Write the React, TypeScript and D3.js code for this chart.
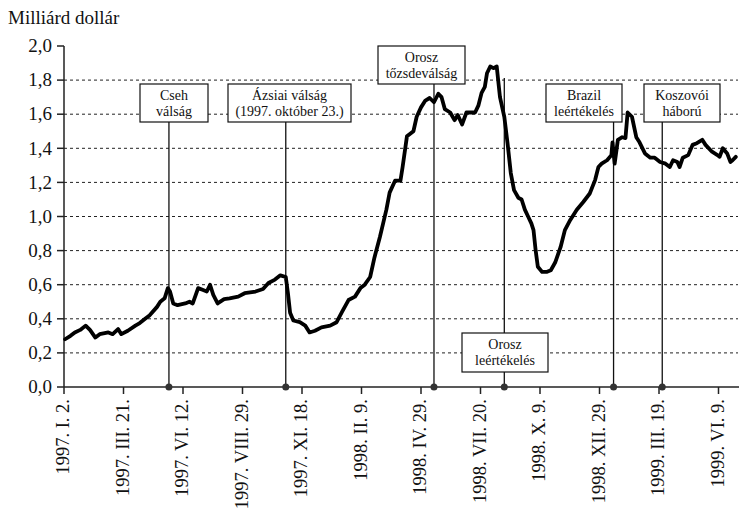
import React from "react";
import * as d3 from "d3";

// trading-day offsets from 1997-01-02
const days = [1, 6, 10, 15, 20, 24, 29, 33, 41, 45, 50, 53, 59, 66, 70, 75, 79, 86, 89, 93, 96, 98, 101, 105, 112, 116, 119, 124, 128, 132, 135, 138, 142, 148, 153, 161, 167, 177, 184, 189, 195, 200, 205, 207, 209, 212, 218, 223, 227, 232, 238, 246, 252, 257, 263, 269, 274, 278, 283, 287, 292, 295, 298, 301, 306, 311, 313, 317, 323, 326, 330, 334, 338, 342, 346, 349, 352, 357, 361, 364, 368, 372, 375, 380, 383, 386, 389, 391, 394, 397, 400, 403, 407, 410, 413, 416, 420, 423, 426, 429, 432, 434, 436, 438, 442, 446, 450, 454, 459, 463, 468, 474, 480, 486, 491, 494, 497, 502, 506, 507, 509, 512, 516, 519, 521, 525, 529, 532, 537, 542, 546, 551, 556, 560, 563, 567, 569, 572, 577, 581, 585, 590, 593, 599, 604, 606, 609, 613, 616, 618, 621];
// billion dollars
const values = [0.28, 0.3, 0.32, 0.335, 0.36, 0.335, 0.29, 0.31, 0.32, 0.31, 0.34, 0.31, 0.33, 0.36, 0.375, 0.4, 0.42, 0.47, 0.5, 0.52, 0.58, 0.56, 0.49, 0.48, 0.49, 0.5, 0.49, 0.58, 0.57, 0.56, 0.6, 0.54, 0.49, 0.515, 0.52, 0.53, 0.55, 0.56, 0.575, 0.61, 0.63, 0.655, 0.645, 0.55, 0.435, 0.39, 0.38, 0.36, 0.32, 0.33, 0.35, 0.36, 0.38, 0.44, 0.51, 0.53, 0.58, 0.6, 0.645, 0.76, 0.88, 0.96, 1.04, 1.14, 1.21, 1.21, 1.29, 1.47, 1.5, 1.585, 1.64, 1.68, 1.695, 1.67, 1.72, 1.7, 1.63, 1.61, 1.565, 1.595, 1.54, 1.61, 1.61, 1.61, 1.65, 1.725, 1.76, 1.84, 1.88, 1.87, 1.88, 1.7, 1.585, 1.43, 1.255, 1.155, 1.11, 1.1, 1.04, 1.0, 0.96, 0.92, 0.8, 0.705, 0.675, 0.675, 0.685, 0.73, 0.82, 0.92, 0.98, 1.04, 1.085, 1.135, 1.215, 1.29, 1.31, 1.33, 1.36, 1.435, 1.31, 1.45, 1.465, 1.46, 1.61, 1.585, 1.465, 1.435, 1.37, 1.345, 1.345, 1.32, 1.31, 1.29, 1.33, 1.32, 1.29, 1.345, 1.36, 1.42, 1.43, 1.45, 1.42, 1.38, 1.36, 1.35, 1.4, 1.37, 1.32, 1.33, 1.35];

const tickDays = [0, 55, 110, 165, 220, 275, 330, 385, 440, 495, 550, 605];
const tickLabels = ["1997. I. 2.", "1997. III. 21.", "1997. VI. 12.", "1997. VIII. 29.", "1997. XI. 18.", "1998. II. 9.", "1998. IV. 29.", "1998. VII. 20.", "1998. X. 9.", "1998. XII. 29.", "1999. III. 19.", "1999. VI. 9."];
const yTicks = [0, 0.2, 0.4, 0.6, 0.8, 1.0, 1.2, 1.4, 1.6, 1.8, 2.0];

const eventDays = [97, 205, 342, 407, 508, 553];
const eventLabels = [
  ["Cseh", "válság"],
  ["Ázsiai válság", "(1997. október 23.)"],
  ["Orosz", "tőzsdeválság"],
  ["Orosz", "leértékelés"],
  ["Brazil", "leértékelés"],
  ["Koszovói", "háború"],
];

// box layout: [left, top, width, height], line top
const boxLayout = [
  { x: 140, y: 84, w: 68, h: 38, lineTop: 122 },
  { x: 228, y: 84, w: 123, h: 38, lineTop: 122 },
  { x: 378, y: 46, w: 87, h: 38, lineTop: 84 },
  { x: 462, y: 333, w: 86, h: 39, lineTop: 78 },
  { x: 546, y: 84, w: 76, h: 38, lineTop: 122 },
  { x: 644, y: 84, w: 76, h: 38, lineTop: 122 },
];

const serif = { fontFamily: "'Liberation Serif', 'DejaVu Serif', serif" };

export default function App() {
  const W = 739, H = 513;
  const x = d3.scaleLinear().domain([0, 605]).range([64, 718.5]);
  const y = d3.scaleLinear().domain([0, 2]).range([387, 46]);
  const pts: [number, number][] = days.map((d, i) => [d, values[i]]);
  const line = d3.line<[number, number]>().x(d => x(d[0])).y(d => y(d[1]));
  const fmt = (v: number) => v.toFixed(1).replace(".", ",");

  return (
    <svg width={W} height={H} style={{ position: "absolute", left: 0, top: 0, background: "#fff" }}>
      <rect x={0} y={0} width={W} height={H} fill="#fff" />
      <text x={8} y={24} fontSize={19} fill="#111" style={serif}>Milliárd dollár</text>
      {/* gridlines */}
      {yTicks.filter(t => t > 0 && t < 2).map(t => (
        <line key={"g" + t} x1={64} x2={738} y1={y(t)} y2={y(t)} stroke="#222" strokeWidth={1} strokeDasharray="3,3" />
      ))}
      {/* y axis */}
      <line x1={64} x2={64} y1={y(2)} y2={y(0)} stroke="#222" strokeWidth={1.5} />
      {yTicks.map(t => (
        <g key={"y" + t}>
          <line x1={57} x2={64} y1={y(t)} y2={y(t)} stroke="#222" strokeWidth={1.5} />
          <text x={52} y={y(t)} dy="0.33em" textAnchor="end" fontSize={19} fill="#111" style={serif}>{fmt(t)}</text>
        </g>
      ))}
      {/* x axis */}
      <line x1={64} x2={739} y1={y(0)} y2={y(0)} stroke="#222" strokeWidth={1.5} />
      {tickDays.map((d, i) => (
        <g key={"x" + d}>
          <line x1={x(d)} x2={x(d)} y1={y(0)} y2={y(0) + 7} stroke="#222" strokeWidth={1.5} />
          <text transform={`translate(${x(d) - 1},399) rotate(-90)`} dy="0.33em" textAnchor="end" fontSize={18.5} fill="#111" style={serif}>{tickLabels[i]}</text>
        </g>
      ))}
      {/* event lines */}
      {eventDays.map((d, i) => (
        <line key={"e" + i} x1={x(d)} x2={x(d)} y1={boxLayout[i].lineTop} y2={y(0)} stroke="#111" strokeWidth={1.3} />
      ))}
      {/* series */}
      <path d={line(pts) || ""} fill="none" stroke="#000" strokeWidth={3.8} strokeLinejoin="round" strokeLinecap="round" />
      {/* event dots */}
      {eventDays.map((d, i) => (
        <circle key={"c" + i} cx={x(d)} cy={y(0)} r={3.5} fill="#333" />
      ))}
      {/* boxes */}
      {eventLabels.map((lab, i) => {
        const b = boxLayout[i];
        return (
          <g key={"b" + i}>
            <rect x={b.x} y={b.y} width={b.w} height={b.h} fill="#fff" stroke="#111" strokeWidth={1.2} />
            <text x={b.x + b.w / 2} y={b.y + 16} textAnchor="middle" fontSize={14} fill="#111" style={serif}>{lab[0]}</text>
            <text x={b.x + b.w / 2} y={b.y + 32} textAnchor="middle" fontSize={14} fill="#111" style={serif}>{lab[1]}</text>
          </g>
        );
      })}
    </svg>
  );
}
